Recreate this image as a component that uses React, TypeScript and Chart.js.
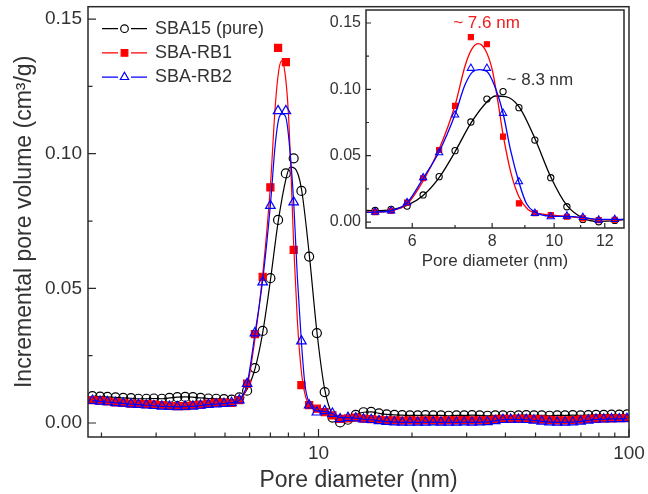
import React, { useEffect, useRef } from 'react';
import { Chart, registerables } from 'chart.js';

Chart.register(...registerables);

const FONT = "Arial, 'Liberation Sans', Helvetica, sans-serif";
const TEXT = '#333333';
const AXIS = '#2a2a2a';

// ---------- data ----------
const poreDiameter = [
  1.87, 1.98, 2.09, 2.22, 2.35, 2.49, 2.63, 2.79, 2.95, 3.13,
  3.31, 3.51, 3.72, 3.94, 4.17, 4.42, 4.68, 4.96,
  5.25, 5.56, 5.89, 6.24, 6.61, 7.0, 7.41, 7.85, 8.32, 8.81,
  9.33, 9.88, 10.47, 11.09, 11.74, 12.44,
  13.18, 13.96, 14.78, 15.66, 16.58, 17.56, 18.6, 19.7, 20.87, 22.1,
  23.41, 24.8, 26.26, 27.82, 29.46, 31.21, 33.05, 35.01, 37.08, 39.28,
  41.6, 44.06, 46.67, 49.43, 52.36, 55.46, 58.74, 62.22, 65.9, 69.8,
  73.93, 78.31, 82.94, 87.85, 93.05, 98.56,
];

const sba15Pure = [
  0.0100, 0.0098, 0.0097, 0.0095, 0.0093, 0.0092, 0.0090, 0.0090, 0.0091, 0.0090,
  0.0093, 0.0096, 0.0097, 0.0096, 0.0093, 0.0091, 0.0090, 0.0089,
  0.0087, 0.0095, 0.0120, 0.0204, 0.0342, 0.0538, 0.0754, 0.0927, 0.0983, 0.0862,
  0.0618, 0.0334, 0.0115, 0.0020, 0.0002, 0.0012,
  0.0030, 0.0040, 0.0041, 0.0036, 0.0032, 0.0030, 0.0029, 0.0028, 0.0028, 0.0029,
  0.0028, 0.0028, 0.0027, 0.0028, 0.0028, 0.0029, 0.0028, 0.0027, 0.0028, 0.0028,
  0.0027, 0.0028, 0.0029, 0.0028, 0.0028, 0.0027, 0.0028, 0.0028, 0.0029, 0.0028,
  0.0029, 0.0030, 0.0030, 0.0031, 0.0031, 0.0032,
];

const sbaRB1 = [
  0.0085, 0.0083, 0.0080, 0.0077, 0.0075, 0.0072, 0.0071, 0.0070, 0.0069, 0.0066,
  0.0064, 0.0063, 0.0063, 0.0066, 0.0068, 0.0072, 0.0075, 0.0076,
  0.0075, 0.0085, 0.0146, 0.0330, 0.0543, 0.0875, 0.1393, 0.1340, 0.0643, 0.0141,
  0.0066, 0.0053, 0.0040, 0.0028, 0.0015, 0.0017,
  0.0020, 0.0016, 0.0014, 0.0012, 0.0010, 0.0010, 0.0009, 0.0010, 0.0009, 0.0010,
  0.0010, 0.0009, 0.0010, 0.0010, 0.0011, 0.0010, 0.0010, 0.0011, 0.0013, 0.0015,
  0.0015, 0.0016, 0.0015, 0.0014, 0.0013, 0.0012, 0.0010, 0.0010, 0.0011, 0.0013,
  0.0015, 0.0016, 0.0017, 0.0017, 0.0018, 0.0018,
];

const sbaRB2 = [
  0.0083, 0.0080, 0.0078, 0.0075, 0.0073, 0.0070, 0.0068, 0.0066, 0.0064, 0.0062,
  0.0061, 0.0060, 0.0061, 0.0062, 0.0065, 0.0068, 0.0070, 0.0072,
  0.0075, 0.0085, 0.0146, 0.0334, 0.0523, 0.0807, 0.1159, 0.1159, 0.0820, 0.0304,
  0.0066, 0.0040, 0.0045, 0.0035, 0.0015, 0.0020,
  0.0018, 0.0014, 0.0012, 0.0008, 0.0005, 0.0003, 0.0002, 0.0002, 0.0002, 0.0002,
  0.0003, 0.0002, 0.0002, 0.0002, 0.0003, 0.0002, 0.0003, 0.0004, 0.0008, 0.0012,
  0.0013, 0.0013, 0.0012, 0.0010, 0.0006, 0.0003, 0.0002, 0.0002, 0.0003, 0.0006,
  0.0010, 0.0013, 0.0014, 0.0015, 0.0015, 0.0016,
];

// fitted (smooth) curves around the peak
const sba15FitX = [5.25, 5.56, 5.89, 6.24, 6.61, 7.0, 7.41, 7.85, 8.1, 8.4, 8.81, 9.33, 9.88, 10.47, 11.09, 11.74, 12.44];
const sba15FitY = [0.0086, 0.0092, 0.0125, 0.0200, 0.0335, 0.0530, 0.0745, 0.0905, 0.0950, 0.0945, 0.0870, 0.0630, 0.0340, 0.0125, 0.0030, 0.0005, 0.0010];

const sbaRB1FitX = [5.25, 5.56, 5.89, 6.24, 6.61, 7.0, 7.26, 7.45, 7.61, 7.8, 8.0, 8.16, 8.32, 8.55, 8.81, 9.1, 9.33, 9.88, 10.47, 11.09, 11.74, 12.44];
const sbaRB1FitY = [0.0075, 0.0085, 0.0135, 0.0310, 0.0550, 0.0880, 0.1180, 0.1310, 0.1345, 0.1300, 0.1150, 0.0920, 0.0660, 0.0380, 0.0190, 0.0095, 0.0070, 0.0053, 0.0042, 0.0030, 0.0018, 0.0017];

const sbaRB2FitX = [5.25, 5.56, 5.89, 6.24, 6.61, 7.0, 7.25, 7.45, 7.65, 7.85, 8.05, 8.32, 8.55, 8.81, 9.05, 9.33, 9.88, 10.47, 11.09, 11.74, 12.44];
const sbaRB2FitY = [0.0075, 0.0085, 0.0145, 0.0330, 0.0530, 0.0810, 0.1030, 0.1130, 0.1148, 0.1135, 0.1040, 0.0820, 0.0540, 0.0300, 0.0140, 0.0075, 0.0045, 0.0043, 0.0035, 0.0020, 0.0020];

const seriesNames = ['SBA15 (pure)', 'SBA-RB1', 'SBA-RB2'];

const mainXTicks = [10, 100];
const mainXMinor = [2, 3, 4, 5, 6, 7, 8, 9, 20, 30, 40, 50, 60, 70, 80, 90];
const yTicks = [0, 0.05, 0.1, 0.15];
const yMinor = [0.025, 0.075, 0.125];
const insetXTicks = [6, 8, 10, 12];
const insetXMinor = [7, 9, 11];

const peakLabels = ['~ 7.6 nm', '~ 8.3 nm'];
const peakLabelX = [7.84, 9.5];
const peakLabelY = [0.15, 0.107];

const xTitle = 'Pore diameter (nm)';
const yTitle = 'Incremental pore volume (cm\u00B3/g)';

// ---------- helpers ----------
type Pt = { x: number; y: number };
const toPoints = (xs: number[], ys: number[]): Pt[] => xs.map((x, i) => ({ x, y: ys[i] }));
const joinCurve = (xs: number[], ys: number[], fx: number[], fy: number[]): Pt[] => {
  const raw = toPoints(xs, ys);
  return [
    ...raw.filter((p) => p.x < fx[0]),
    ...toPoints(fx, fy),
    ...raw.filter((p) => p.x > fx[fx.length - 1]),
  ];
};

const series = [
  { name: seriesNames[0], values: sba15Pure, fitX: sba15FitX, fitY: sba15FitY, color: '#000000', style: 'circle', fill: 'rgba(0,0,0,0)' },
  { name: seriesNames[1], values: sbaRB1, fitX: sbaRB1FitX, fitY: sbaRB1FitY, color: '#ff0000', style: 'rect', fill: '#ff0000' },
  { name: seriesNames[2], values: sbaRB2, fitX: sbaRB2FitX, fitY: sbaRB2FitY, color: '#0000ff', style: 'triangle', fill: 'rgba(0,0,0,0)' },
];

function buildDatasets(radii: number[], lineWidth: number, pointWidth: number) {
  const ds: any[] = [];
  series.forEach((s, i) => {
    const rank = 2 - i;
    ds.push({
      label: s.name + ' curve',
      data: joinCurve(poreDiameter, s.values, s.fitX, s.fitY),
      showLine: true,
      borderColor: s.color,
      borderWidth: lineWidth,
      pointRadius: 0,
      pointHoverRadius: 0,
      cubicInterpolationMode: 'monotone',
      fill: false,
      order: rank * 2 + 1,
    });
    ds.push({
      label: s.name,
      data: toPoints(poreDiameter, s.values),
      showLine: false,
      pointStyle: s.style,
      pointRadius: radii[i],
      pointHoverRadius: radii[i],
      pointBackgroundColor: s.fill,
      pointBorderColor: s.color,
      pointBorderWidth: pointWidth,
      order: rank * 2,
    });
  });
  return ds;
}

function drawMarker(ctx: CanvasRenderingContext2D, style: string, x: number, y: number, r: number, color: string, fill: string) {
  ctx.save();
  ctx.strokeStyle = color;
  ctx.fillStyle = fill;
  ctx.lineWidth = 1.2;
  ctx.beginPath();
  if (style === 'circle') {
    ctx.arc(x, y, r, 0, Math.PI * 2);
  } else if (style === 'rect') {
    const h = Math.SQRT1_2 * r;
    ctx.rect(x - h, y - h, 2 * h, 2 * h);
  } else {
    ctx.moveTo(x, y - r);
    ctx.lineTo(x + r * Math.sin((2 * Math.PI) / 3), y - r * Math.cos((2 * Math.PI) / 3));
    ctx.lineTo(x + r * Math.sin((4 * Math.PI) / 3), y - r * Math.cos((4 * Math.PI) / 3));
    ctx.closePath();
  }
  ctx.fill();
  ctx.stroke();
  ctx.restore();
}

type DecorOpts = {
  xMajor: number[];
  xMinor: number[];
  yMajor: number[];
  yMinor: number[];
  major: number;
  minor: number;
  frameWidth: number;
  extra?: (chart: any) => void;
};

function decorPlugin(o: DecorOpts) {
  return {
    id: 'decor',
    afterDraw(chart: any) {
      const { ctx, chartArea: a } = chart;
      const xs = chart.scales.x;
      const ys = chart.scales.y;
      ctx.save();
      ctx.strokeStyle = AXIS;
      ctx.lineWidth = 1.2;
      ctx.beginPath();
      const xt = (vals: number[], len: number) =>
        vals.forEach((v) => {
          const p = xs.getPixelForValue(v);
          if (p >= a.left - 0.5 && p <= a.right + 0.5) {
            ctx.moveTo(p, a.bottom);
            ctx.lineTo(p, a.bottom - len);
          }
        });
      const yt = (vals: number[], len: number) =>
        vals.forEach((v) => {
          const p = ys.getPixelForValue(v);
          if (p >= a.top - 0.5 && p <= a.bottom + 0.5) {
            ctx.moveTo(a.left, p);
            ctx.lineTo(a.left + len, p);
          }
        });
      xt(o.xMajor, o.major);
      xt(o.xMinor, o.minor);
      yt(o.yMajor, o.major);
      yt(o.yMinor, o.minor);
      ctx.stroke();
      ctx.lineWidth = o.frameWidth;
      ctx.strokeRect(a.left, a.top, a.right - a.left, a.bottom - a.top);
      ctx.restore();
      if (o.extra) o.extra(chart);
    },
  };
}

const legendRadii = [3.8, 4.7, 4.8];

function drawLegend(chart: any) {
  const { ctx, chartArea: a } = chart;
  ctx.save();
  ctx.font = `18px ${FONT}`;
  ctx.textBaseline = 'middle';
  ctx.textAlign = 'left';
  series.forEach((s, i) => {
    const y = a.top + 22 + i * 24.2;
    const x0 = a.left + 14;
    ctx.strokeStyle = s.color;
    ctx.lineWidth = 1.2;
    ctx.beginPath();
    ctx.moveTo(x0, y);
    ctx.lineTo(x0 + 16, y);
    ctx.moveTo(x0 + 29, y);
    ctx.lineTo(x0 + 45, y);
    ctx.stroke();
    drawMarker(ctx, s.style, x0 + 22.5, y, legendRadii[i], s.color, s.fill);
    ctx.fillStyle = TEXT;
    ctx.fillText(s.name, a.left + 67, y);
  });
  ctx.restore();
}

function drawPeakLabels(chart: any) {
  const { ctx } = chart;
  const xs = chart.scales.x;
  const ys = chart.scales.y;
  const colors = ['#ee1c1c', TEXT];
  ctx.save();
  ctx.font = `17px ${FONT}`;
  ctx.textBaseline = 'middle';
  ctx.textAlign = 'center';
  peakLabels.forEach((t, i) => {
    ctx.fillStyle = colors[i];
    ctx.fillText(t, xs.getPixelForValue(peakLabelX[i]), ys.getPixelForValue(peakLabelY[i]));
  });
  ctx.restore();
}

function mainConfig(): any {
  return {
    type: 'scatter',
    data: { datasets: buildDatasets([4.5, 5.0, 5.5], 1.2, 1.2) },
    options: {
      responsive: false,
      animation: false,
      events: [],
      layout: { padding: { top: 5, right: 19, left: 0, bottom: 0 } },
      plugins: { legend: { display: false }, tooltip: { enabled: false } },
      scales: {
        x: {
          type: 'logarithmic',
          min: 1.81,
          max: 100,
          grid: { display: false, drawTicks: false },
          border: { display: false },
          ticks: {
            font: { family: FONT, size: 19 },
            color: TEXT,
            padding: 5,
            maxRotation: 0,
            autoSkip: false,
            callback: (v: any) => String(v),
          },
          afterBuildTicks: (s: any) => {
            s.ticks = mainXTicks.map((v) => ({ value: v }));
          },
          afterFit: (s: any) => {
            s.height = 57;
            s.paddingLeft = 0;
            s.paddingRight = 0;
          },
          title: {
            display: true,
            text: xTitle,
            font: { family: FONT, size: 23 },
            color: TEXT,
            padding: { top: 1, bottom: 0 },
          },
        },
        y: {
          type: 'linear',
          min: -0.0052,
          max: 0.1546,
          grid: { display: false, drawTicks: false },
          border: { display: false },
          ticks: {
            font: { family: FONT, size: 19 },
            color: TEXT,
            padding: 6,
            autoSkip: false,
            callback: (v: any) => Number(v).toFixed(2),
          },
          afterBuildTicks: (s: any) => {
            s.ticks = yTicks.map((v) => ({ value: v }));
          },
          afterFit: (s: any) => {
            s.width = 88;
            s.paddingTop = 0;
            s.paddingBottom = 0;
          },
          title: {
            display: true,
            text: yTitle,
            font: { family: FONT, size: 23 },
            color: TEXT,
            padding: { top: 11, bottom: 0 },
          },
        },
      },
    },
    plugins: [
      decorPlugin({
        xMajor: mainXTicks,
        xMinor: mainXMinor,
        yMajor: yTicks,
        yMinor: yMinor,
        major: 8,
        minor: 4.5,
        frameWidth: 1.5,
        extra: drawLegend,
      }),
    ],
  };
}

function insetConfig(): any {
  return {
    type: 'scatter',
    data: { datasets: buildDatasets([3.1, 3.6, 4.2], 1.3, 1.1) },
    options: {
      responsive: false,
      animation: false,
      events: [],
      layout: { padding: { top: 10, right: 12, left: 0, bottom: 0 } },
      plugins: { legend: { display: false }, tooltip: { enabled: false } },
      scales: {
        x: {
          type: 'logarithmic',
          min: 5.08,
          max: 12.86,
          grid: { display: false, drawTicks: false },
          border: { display: false },
          ticks: {
            font: { family: FONT, size: 16 },
            color: TEXT,
            padding: 4,
            maxRotation: 0,
            autoSkip: false,
            callback: (v: any) => String(v),
          },
          afterBuildTicks: (s: any) => {
            s.ticks = insetXTicks.map((v) => ({ value: v }));
          },
          afterFit: (s: any) => {
            s.height = 44;
            s.paddingLeft = 0;
            s.paddingRight = 0;
          },
          title: {
            display: true,
            text: xTitle,
            font: { family: FONT, size: 17 },
            color: TEXT,
            padding: { top: 3, bottom: 0 },
          },
        },
        y: {
          type: 'linear',
          min: -0.0045,
          max: 0.1598,
          grid: { display: false, drawTicks: false },
          border: { display: false },
          ticks: {
            font: { family: FONT, size: 16 },
            color: TEXT,
            padding: 5,
            autoSkip: false,
            callback: (v: any) => Number(v).toFixed(2),
          },
          afterBuildTicks: (s: any) => {
            s.ticks = yTicks.map((v) => ({ value: v }));
          },
          afterFit: (s: any) => {
            s.width = 40;
            s.paddingTop = 0;
            s.paddingBottom = 0;
          },
        },
      },
    },
    plugins: [
      decorPlugin({
        xMajor: insetXTicks,
        xMinor: insetXMinor,
        yMajor: yTicks,
        yMinor: yMinor,
        major: 5,
        minor: 3,
        frameWidth: 1.5,
        extra: drawPeakLabels,
      }),
    ],
  };
}

export default function App() {
  const mainRef = useRef<HTMLCanvasElement | null>(null);
  const insetRef = useRef<HTMLCanvasElement | null>(null);

  useEffect(() => {
    const charts: Chart[] = [];
    if (mainRef.current) charts.push(new Chart(mainRef.current, mainConfig()));
    if (insetRef.current) charts.push(new Chart(insetRef.current, insetConfig()));
    return () => charts.forEach((c) => c.destroy());
  }, []);

  return (
    <div style={{ position: 'absolute', left: 0, top: 0, width: 648, height: 494, background: '#ffffff', overflow: 'hidden' }}>
      <canvas ref={mainRef} width={648} height={494} style={{ position: 'absolute', left: 0, top: 0, width: 648, height: 494 }} />
      <canvas ref={insetRef} width={310} height={272} style={{ position: 'absolute', left: 326, top: 0, width: 310, height: 272 }} />
    </div>
  );
}
